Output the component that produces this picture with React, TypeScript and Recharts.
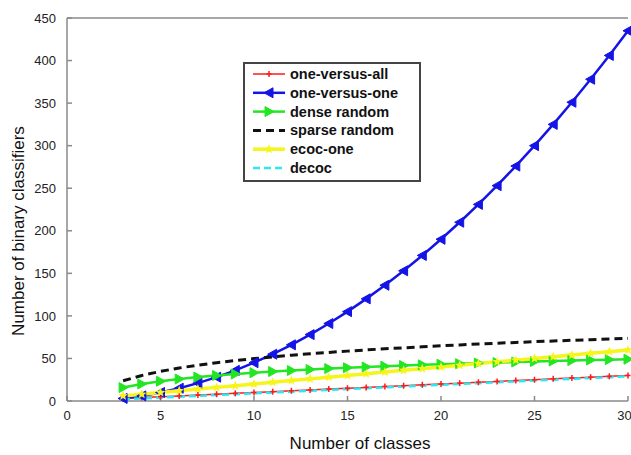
import { LineChart, Line, XAxis, YAxis, Label } from 'recharts'

const classes = [3, 4, 5, 6, 7, 8, 9, 10, 11, 12, 13, 14, 15, 16, 17, 18, 19, 20, 21, 22, 23, 24, 25, 26, 27, 28, 29, 30]
const oneVsAll = [3, 4, 5, 6, 7, 8, 9, 10, 11, 12, 13, 14, 15, 16, 17, 18, 19, 20, 21, 22, 23, 24, 25, 26, 27, 28, 29, 30]
const oneVsOne = [3, 6, 10, 15, 21, 28, 36, 45, 55, 66, 78, 91, 105, 120, 136, 153, 171, 190, 210, 231, 253, 276, 300, 325, 351, 378, 406, 435]
const denseRandom = [15.8, 20, 23.2, 25.8, 28.1, 30, 31.7, 33.2, 34.6, 35.8, 37, 38.1, 39.1, 40, 40.9, 41.7, 42.5, 43.2, 43.9, 44.6, 45.2, 45.8, 46.4, 47, 47.5, 48.1, 48.6, 49.1]
const sparseRandom = [23.8, 30, 34.8, 38.8, 42.1, 45, 47.5, 49.8, 51.9, 53.8, 55.5, 57.1, 58.6, 60, 61.3, 62.5, 63.7, 64.8, 65.9, 66.9, 67.9, 68.8, 69.7, 70.5, 71.3, 72.1, 72.9, 73.6]
const ecocOne = [6, 8, 10, 12, 14, 16, 18, 20, 22, 24, 26, 28, 30, 32, 34, 36, 38, 40, 42, 44, 46, 48, 50, 52, 54, 56, 58, 60]
const decoc = [2, 3, 4, 5, 6, 7, 8, 9, 10, 11, 12, 13, 14, 15, 16, 17, 18, 19, 20, 21, 22, 23, 24, 25, 26, 27, 28, 29]

const xTicks = [0, 5, 10, 15, 20, 25, 30]
const yTicks = [0, 50, 100, 150, 200, 250, 300, 350, 400, 450]

const data = classes.map((n, i) => ({
  n,
  ova: oneVsAll[i],
  ovo: oneVsOne[i],
  dense: denseRandom[i],
  sparse: sparseRandom[i],
  ecoc: ecocOne[i],
  decoc: decoc[i],
}))

const FONT = '"Liberation Sans", Arial, sans-serif'
const AXIS = '#8a8a8a'

type Mark = 'left' | 'right' | 'plus' | 'star' | 'none'

function Marker({ cx, cy, kind, color }: { cx: number; cy: number; kind: Mark; color: string }) {
  if (kind === 'left')
    return <polygon points={`${cx - 5},${cy} ${cx + 4},${cy - 5} ${cx + 4},${cy + 5}`} fill={color} stroke={color} />
  if (kind === 'right')
    return <polygon points={`${cx + 5},${cy} ${cx - 4},${cy - 5} ${cx - 4},${cy + 5}`} fill={color} stroke={color} />
  if (kind === 'plus')
    return (
      <g stroke={color} strokeWidth={1.5}>
        <line x1={cx - 2.5} y1={cy} x2={cx + 2.5} y2={cy} />
        <line x1={cx} y1={cy - 3} x2={cx} y2={cy + 3} />
      </g>
    )
  if (kind === 'star') {
    const pts: string[] = []
    for (let k = 0; k < 10; k++) {
      const r = k % 2 === 0 ? 5 : 2.2
      const a = -Math.PI / 2 + (k * Math.PI) / 5
      pts.push(`${cx + r * Math.cos(a)},${cy + r * Math.sin(a)}`)
    }
    return <polygon points={pts.join(' ')} fill={color} />
  }
  return null
}

const dotFn = (kind: Mark, color: string) => (p: any) =>
  <Marker key={`${kind}-${p.index}`} cx={p.cx} cy={p.cy} kind={kind} color={color} />

const SERIES = [
  { key: 'ova', name: 'one-versus-all', color: '#ff1a1a', width: 1.5, dash: undefined, mark: 'plus' as Mark },
  { key: 'ovo', name: 'one-versus-one', color: '#1414e6', width: 2.5, dash: undefined, mark: 'left' as Mark },
  { key: 'dense', name: 'dense random', color: '#22e622', width: 2.5, dash: undefined, mark: 'right' as Mark },
  { key: 'sparse', name: 'sparse random', color: '#111111', width: 3, dash: '8 5', mark: 'none' as Mark },
  { key: 'ecoc', name: 'ecoc-one', color: '#f5f51a', width: 3.5, dash: undefined, mark: 'star' as Mark },
  { key: 'decoc', name: 'decoc', color: '#2ee6f0', width: 2.5, dash: '7 4', mark: 'none' as Mark },
]

function LegendBox() {
  return (
    <div
      style={{
        position: 'absolute',
        left: 243,
        top: 62,
        width: 178,
        height: 120,
        boxSizing: 'border-box',
        border: '2px solid #444',
        background: '#fff',
      }}
    >
      <svg width={174} height={116} style={{ display: 'block' }}>
        {SERIES.map((s, i) => {
          const y = 10 + i * 18.8
          return (
            <g key={s.key}>
              <line x1={8} x2={40} y1={y} y2={y} stroke={s.color} strokeWidth={s.width} strokeDasharray={s.dash} />
              <Marker cx={24} cy={y} kind={s.mark} color={s.color} />
              <text x={45} y={y + 5} fontFamily={FONT} fontWeight="bold" fontSize={14.5} fill="#111">
                {s.name}
              </text>
            </g>
          )
        })}
      </svg>
    </div>
  )
}

function YTitle() {
  return (
    <text
      x={18}
      y={231}
      transform="rotate(-90 18 231)"
      textAnchor="middle"
      dominantBaseline="central"
      fontFamily={FONT}
      fontSize={17}
      fill="#111"
    >
      Number of binary classifiers
    </text>
  )
}

function XTitle() {
  return (
    <text x={360} y={443} textAnchor="middle" dominantBaseline="central" fontFamily={FONT} fontSize={17} fill="#111">
      Number of classes
    </text>
  )
}

export default function App() {
  const tickStyle = { fontSize: 13, fill: '#222', fontFamily: FONT }
  return (
    <div style={{ position: 'absolute', left: 0, top: 0, width: 631, height: 455, background: '#fff' }}>
      <LineChart width={631} height={455} data={data} margin={{ top: 17, right: 3, bottom: 0, left: 0 }}>
        <XAxis
          xAxisId="b"
          dataKey="n"
          type="number"
          domain={[0, 30]}
          ticks={xTicks}
          tick={tickStyle}
          tickSize={-5}
          tickMargin={15}
          stroke={AXIS}
          strokeWidth={1.5}
          height={54}
        >
          <Label content={<XTitle />} />
        </XAxis>
        <XAxis
          xAxisId="t"
          orientation="top"
          dataKey="n"
          type="number"
          domain={[0, 30]}
          ticks={xTicks}
          tick={false}
          tickSize={-5}
          stroke={AXIS}
          strokeWidth={1.5}
          height={1}
        />
        <YAxis
          yAxisId="l"
          type="number"
          domain={[0, 450]}
          ticks={yTicks}
          tick={tickStyle}
          tickSize={-5}
          tickMargin={16}
          stroke={AXIS}
          strokeWidth={1.5}
          width={67}
        >
          <Label content={<YTitle />} />
        </YAxis>
        <YAxis
          yAxisId="r"
          orientation="right"
          type="number"
          domain={[0, 450]}
          ticks={yTicks}
          tick={false}
          tickSize={-5}
          stroke={AXIS}
          strokeWidth={1.5}
          width={0}
        />
        {SERIES.map((s) => (
          <Line
            key={s.key}
            xAxisId="b"
            yAxisId="l"
            dataKey={s.key}
            name={s.name}
            type="linear"
            stroke={s.color}
            strokeWidth={s.width}
            strokeDasharray={s.dash}
            dot={s.mark === 'none' ? false : dotFn(s.mark, s.color)}
            activeDot={false}
            isAnimationActive={false}
          />
        ))}
      </LineChart>
      <LegendBox />
    </div>
  )
}
